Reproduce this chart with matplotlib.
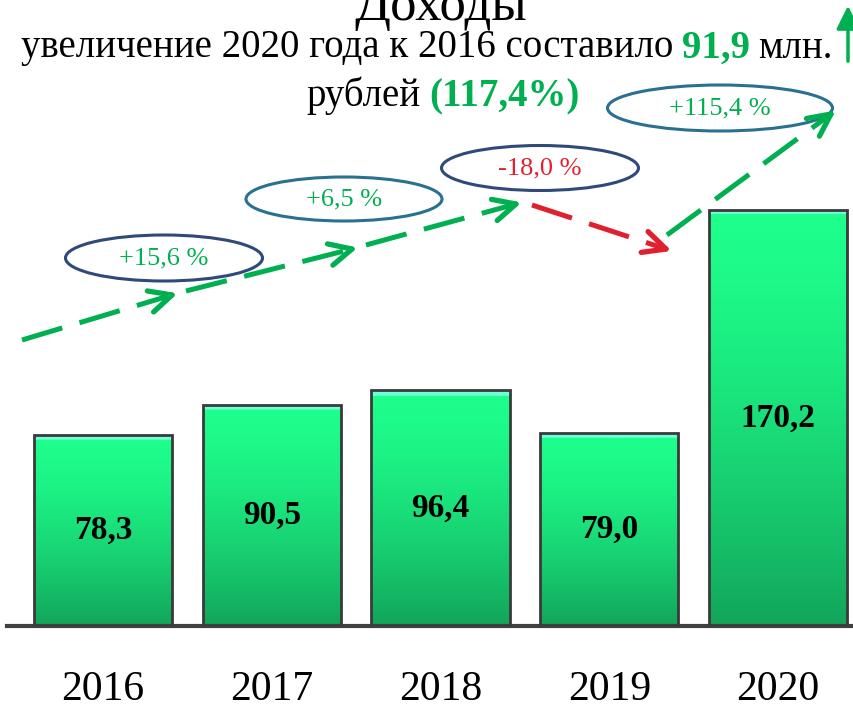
import numpy as np
import matplotlib
matplotlib.use('Agg')
import matplotlib.pyplot as plt
from matplotlib.patches import Ellipse, FancyArrowPatch
from matplotlib.lines import Line2D
from matplotlib.transforms import Affine2D
from matplotlib.offsetbox import TextArea, HPacker, AnnotationBbox

years = ['2016', '2017', '2018', '2019', '2020']
income = [78.3, 90.5, 96.4, 79.0, 170.2]
income_labels = ['78,3', '90,5', '96,4', '79,0', '170,2']
changes = ['+15,6 %', '+6,5 %', '-18,0 %', '+115,4 %']
change_up = [True, True, False, True]

W, H = 854, 710
green = '#00b050'
red = '#e0202e'
serif = 'Liberation Serif'

fig = plt.figure(figsize=(W / 100, H / 100), dpi=100)
# пиксельные координаты от левого верхнего угла
px = Affine2D().scale(1 / W, -1 / H).translate(0, 1) + fig.transFigure

ax = fig.add_axes([7 / W, 84 / H, 1 - 7 / W, 626 / H])
ymax = 256
x = np.arange(len(years))
bars = ax.bar(x, income, width=0.82, facecolor='none', edgecolor='#3a3a3a', linewidth=2, zorder=3)

top_c = np.array([30, 255, 140]) / 255
bot_c = np.array([18, 165, 90]) / 255
hi_c = np.array([110, 255, 215]) / 255
px_per_unit = 626 / ymax
for rect, v in zip(bars, income):
    n = 400
    t = np.linspace(0, 1, n)[:, None]
    img = top_c * (1 - t ** 1.5) + bot_c * t ** 1.5
    band = int(n * 6 / (v * px_per_unit))
    img[:band] = hi_c
    img = img[:, None, :]
    x0 = rect.get_x()
    im = ax.imshow(img, extent=(x0, x0 + rect.get_width(), 0, v), aspect='auto',
                   origin='upper', zorder=2)
    im.set_clip_path(rect)

for xi, v, lab in zip(x, income, income_labels):
    ax.text(xi, v / 2, lab, ha='center', va='center', fontsize=24, fontweight='bold',
            family=serif, color='black', zorder=4)

ax.set_xlim(-0.569, 4.45)
ax.set_ylim(0, ymax)
for s in ['top', 'left', 'right']:
    ax.spines[s].set_visible(False)
ax.spines['bottom'].set_color('#404040')
ax.spines['bottom'].set_linewidth(3)
ax.set_yticks([])
ax.set_xticks(x, years)
ax.tick_params(axis='x', length=0, pad=32, labelsize=30)
for lab in ax.get_xticklabels():
    lab.set_family(serif)
ax.patch.set_alpha(0)

# заголовок
fig.text(441 / W, 1 - 20 / H, 'Доходы', ha='center', va='baseline', fontsize=38, family=serif)

def line_of_parts(parts, xc, yc):
    kids = [TextArea(t, textprops=p) for t, p in parts]
    box = HPacker(children=kids, align='baseline', pad=0, sep=6)
    ab = AnnotationBbox(box, (xc / W, 1 - yc / H), xycoords='figure fraction',
                        frameon=False, box_alignment=(0.5, 0.5), pad=0)
    fig.add_artist(ab)

normal = dict(fontsize=28, family=serif, color='black')
bold_g = dict(fontsize=28, family=serif, color=green, fontweight='bold')
line_of_parts([('увеличение 2020 года к 2016 составило', normal), ('91,9', bold_g), ('млн.', normal)], 427, 48)
line_of_parts([('рублей', normal), ('(117,4%)', bold_g)], 443, 96)

# эллипсы с приростом
ell = [(164, 258, 197, 46, '#2f4a7a'), (344, 199, 196, 44, '#2a7090'),
       (540, 168, 197, 45, '#2f4a7a'), (720, 108, 225, 46, '#2a7090')]
for (cx, cy, ew, eh, ec), txt, up in zip(ell, changes, change_up):
    fig.add_artist(Ellipse((cx, cy), ew, eh, transform=px, facecolor='none',
                           edgecolor=ec, linewidth=2.2))
    fig.text(cx / W, 1 - cy / H, txt, ha='center', va='center', fontsize=19,
             family=serif, color=green if up else red)

# пунктирные стрелки
def dashed(p0, p1, color):
    fig.add_artist(Line2D([p0[0], p1[0]], [p0[1], p1[1]], transform=px, color=color,
                          linewidth=3.6, dashes=(8.4, 3.6), solid_capstyle='butt',
                          dash_capstyle='butt'))

def chevron(p0, tip, color, length=25, ang=26):
    d = np.array(p0, float) - np.array(tip, float)
    a = np.arctan2(d[1], d[0])
    for s in (-1, 1):
        b = a + s * np.radians(ang)
        end = (tip[0] + length * np.cos(b), tip[1] + length * np.sin(b))
        fig.add_artist(Line2D([tip[0], end[0]], [tip[1], end[1]], transform=px,
                              color=color, linewidth=3.8, solid_capstyle='round'))

segs = [((22, 340), (172, 295), green), ((186, 291), (352, 249), green),
        ((366, 245), (516, 204), green), ((532, 205), (666, 249), red),
        ((667, 235), (831, 114), green)]
for p0, p1, c in segs:
    dashed(p0, p1, c)
    chevron(p0, p1, c)

fig.add_artist(FancyArrowPatch((848, 64), (848, 3), transform=px, color=green,
                               arrowstyle='-|>,head_length=0.7,head_width=0.35',
                               mutation_scale=20, linewidth=2.5))

fig.savefig('out.png', dpi=100)
